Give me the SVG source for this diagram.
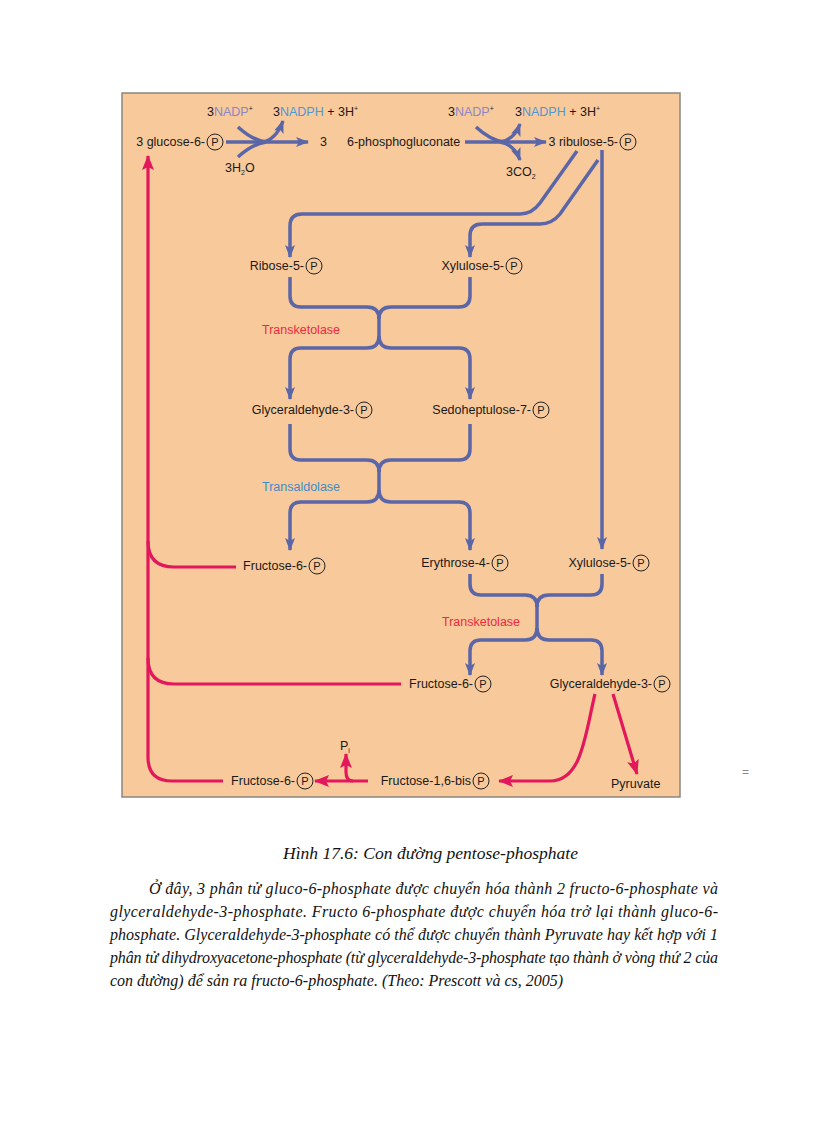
<svg xmlns="http://www.w3.org/2000/svg" width="816" height="1123" viewBox="0 0 816 1123">
<defs>
<style>
.t{font-family:"Liberation Sans",Arial,sans-serif;font-size:12.5px;fill:#1a1a1a}
.p{font-family:"Liberation Sans",Arial,sans-serif;font-size:11px;fill:#1a1a1a;text-anchor:middle}
.pc{fill:none;stroke:#222;stroke-width:1}
.b{fill:none;stroke:#5a66a8;stroke-width:3.5;stroke-linecap:butt;stroke-linejoin:round}
.r{fill:none;stroke:#e3175c;stroke-width:3.2;stroke-linejoin:round}
.cap{font-family:"Liberation Serif","Times New Roman",serif;font-style:italic;font-size:17px;fill:#111}
.para{font-family:"Liberation Serif","Times New Roman",serif;font-style:italic;font-size:16px;fill:#111}
.lav{fill:#8a86c8}
.sky{fill:#4f97d6}
</style>
<marker id="ab" markerUnits="userSpaceOnUse" markerWidth="13" markerHeight="10" refX="12" refY="5" orient="auto">
<path d="M0,0 L13,5 L0,10 L3,5 z" fill="#5a66a8"/>
</marker>
<marker id="ar" markerUnits="userSpaceOnUse" markerWidth="15" markerHeight="12" refX="14" refY="6" orient="auto">
<path d="M0,0 L15,6 L0,12 L3,6 z" fill="#e3175c"/>
</marker>
</defs>
<rect width="816" height="1123" fill="#ffffff"/>
<rect x="122" y="93" width="558" height="704" fill="#f8c99b" stroke="#8a8580" stroke-width="1.5"/>

<g id="connectors">
<path class="b" d="M226,142 H308" marker-end="url(#ab)"/>
<path class="b" d="M238,127 Q252,140 266,142"/>
<path class="b" d="M238,157 Q252,144 266,142"/>
<path class="b" d="M262,142 Q276,140 283,121" marker-end="url(#ab)"/>
<path class="b" d="M465,142 H546" marker-end="url(#ab)"/>
<path class="b" d="M476,127 Q490,140 504,142"/>
<path class="b" d="M500,142 Q514,140 520,124" marker-end="url(#ab)"/>
<path class="b" d="M500,142 Q514,144 520,160" marker-end="url(#ab)"/>
<path class="b" d="M577,151 L540,203 Q532,214 520,214 L302,214 Q290,214 290,226 L290,257" marker-end="url(#ab)"/>
<path class="b" d="M598,160 L560,214 Q552,224 540,224 L482,224 Q470,224 470,236 L470,257" marker-end="url(#ab)"/>
<path class="b" d="M602,150 L602,549" marker-end="url(#ab)"/>
<path class="b" d="M290,277 V296 Q290,307 301,307 H367 Q379,307 379,319"/>
<path class="b" d="M470,277 V296 Q470,307 459,307 H391 Q379,307 379,319"/>
<path class="b" d="M379,317 V338"/>
<path class="b" d="M379,336 Q379,348 367,348 H301 Q290,348 290,359 V399" marker-end="url(#ab)"/>
<path class="b" d="M379,336 Q379,348 391,348 H459 Q470,348 470,359 V399" marker-end="url(#ab)"/>
<path class="b" d="M290,424 V449 Q290,460 301,460 H367 Q379,460 379,472"/>
<path class="b" d="M470,424 V449 Q470,460 459,460 H391 Q379,460 379,472"/>
<path class="b" d="M379,470 V492"/>
<path class="b" d="M379,490 Q379,502 367,502 H301 Q290,502 290,513 V550" marker-end="url(#ab)"/>
<path class="b" d="M379,490 Q379,502 391,502 H459 Q470,502 470,513 V550" marker-end="url(#ab)"/>
<path class="b" d="M470,574 V584 Q470,595 481,595 H525 Q537,595 537,607"/>
<path class="b" d="M602,574 V584 Q602,595 591,595 H549 Q537,595 537,607"/>
<path class="b" d="M537,605 V630"/>
<path class="b" d="M537,628 Q537,640 525,640 H481 Q470,640 470,651 V675" marker-end="url(#ab)"/>
<path class="b" d="M537,628 Q537,640 549,640 H591 Q602,640 602,651 V675" marker-end="url(#ab)"/>
<path class="r" d="M223,781 H172 Q148,781 148,757 V156" marker-end="url(#ar)"/>
<path class="r" d="M236,567 H174 Q148,567 148,541"/>
<path class="r" d="M401,684 H174 Q148,684 148,658"/>
<path class="r" d="M595,694 C585,735 582,781 550,781 H499" marker-end="url(#ar)"/>
<path class="r" d="M613,694 L637,774" marker-end="url(#ar)"/>
<path class="r" d="M368,781 H315" marker-end="url(#ar)"/>
<path class="r" d="M353,781 Q346,781 346,772 V754" marker-end="url(#ar)"/>
</g>

<g id="cofactors">
<text class="t" x="207" y="116">3<tspan class="lav">NADP</tspan><tspan font-size="7" dy="-5">+</tspan></text>
<text class="t" x="273" y="116">3<tspan class="sky">NADPH</tspan> + 3H<tspan font-size="7" dy="-5">+</tspan></text>
<text class="t" x="225" y="172">3H<tspan font-size="7" dy="3">2</tspan><tspan dy="-3">O</tspan></text>
<text class="t" x="448" y="116">3<tspan class="lav">NADP</tspan><tspan font-size="7" dy="-5">+</tspan></text>
<text class="t" x="515" y="116">3<tspan class="sky">NADPH</tspan> + 3H<tspan font-size="7" dy="-5">+</tspan></text>
<text class="t" x="506" y="176">3CO<tspan font-size="7" dy="3">2</tspan></text>
</g>

<g id="glucose6p"><text class="t" x="205" y="146" text-anchor="end">3 glucose-6-</text><circle class="pc" cx="215" cy="142" r="8"/><text class="p" x="215" y="146">P</text></g>
<g id="phosphogluconate"><text class="t" x="320" y="146">3</text><text class="t" x="347" y="146">6-phosphogluconate</text></g>
<g id="ribulose5p"><text class="t" x="618" y="146" text-anchor="end">3 ribulose-5-</text><circle class="pc" cx="628" cy="142" r="8"/><text class="p" x="628" y="146">P</text></g>
<g id="ribose5p"><text class="t" x="304" y="270" text-anchor="end">Ribose-5-</text><circle class="pc" cx="314" cy="266" r="8"/><text class="p" x="314" y="270">P</text></g>
<g id="xylulose5p-a"><text class="t" x="504" y="270" text-anchor="end">Xylulose-5-</text><circle class="pc" cx="514" cy="266" r="8"/><text class="p" x="514" y="270">P</text></g>
<g id="label-transketolase-1"><text class="t" x="262" y="334" style="fill:#ee2a3c">Transketolase</text></g>
<g id="glyceraldehyde3p-a"><text class="t" x="354" y="414" text-anchor="end">Glyceraldehyde-3-</text><circle class="pc" cx="364" cy="410" r="8"/><text class="p" x="364" y="414">P</text></g>
<g id="sedoheptulose7p"><text class="t" x="531" y="414" text-anchor="end">Sedoheptulose-7-</text><circle class="pc" cx="541" cy="410" r="8"/><text class="p" x="541" y="414">P</text></g>
<g id="label-transaldolase"><text class="t" x="262" y="491" style="fill:#3d8ccc">Transaldolase</text></g>
<g id="fructose6p-a"><text class="t" x="307" y="570" text-anchor="end">Fructose-6-</text><circle class="pc" cx="317" cy="566" r="8"/><text class="p" x="317" y="570">P</text></g>
<g id="erythrose4p"><text class="t" x="490" y="567" text-anchor="end">Erythrose-4-</text><circle class="pc" cx="500" cy="563" r="8"/><text class="p" x="500" y="567">P</text></g>
<g id="xylulose5p-b"><text class="t" x="631" y="567" text-anchor="end">Xylulose-5-</text><circle class="pc" cx="641" cy="563" r="8"/><text class="p" x="641" y="567">P</text></g>
<g id="label-transketolase-2"><text class="t" x="442" y="626" style="fill:#ee2a3c">Transketolase</text></g>
<g id="fructose6p-b"><text class="t" x="473" y="688" text-anchor="end">Fructose-6-</text><circle class="pc" cx="483" cy="684" r="8"/><text class="p" x="483" y="688">P</text></g>
<g id="glyceraldehyde3p-b"><text class="t" x="652" y="688" text-anchor="end">Glyceraldehyde-3-</text><circle class="pc" cx="662" cy="684" r="8"/><text class="p" x="662" y="688">P</text></g>
<g id="fructose16bisp"><text class="t" x="471" y="785" text-anchor="end">Fructose-1,6-bis</text><circle class="pc" cx="481" cy="781" r="8"/><text class="p" x="481" y="785">P</text></g>
<g id="fructose6p-c"><text class="t" x="295" y="785" text-anchor="end">Fructose-6-</text><circle class="pc" cx="305" cy="781" r="8"/><text class="p" x="305" y="785">P</text></g>
<g id="pi"><text class="t" x="340" y="750">P<tspan font-size="7" dy="3">i</tspan></text></g>
<g id="pyruvate"><text class="t" x="611" y="788">Pyruvate</text></g>

<text x="742" y="776" font-family="Liberation Sans, sans-serif" font-size="12" fill="#888">=</text>

<text class="cap" x="283" y="859" textLength="295" lengthAdjust="spacingAndGlyphs">Hình 17.6: Con đường pentose-phosphate</text>
<text class="para" x="149" y="894" textLength="569" lengthAdjust="spacing">Ở đây, 3 phân tử gluco-6-phosphate được chuyển hóa thành 2 fructo-6-phosphate và</text>
<text class="para" x="110" y="917" textLength="608" lengthAdjust="spacing">glyceraldehyde-3-phosphate. Fructo 6-phosphate được chuyển hóa trở lại thành gluco-6-</text>
<text class="para" x="110" y="940" textLength="608" lengthAdjust="spacing">phosphate. Glyceraldehyde-3-phosphate có thể được chuyển thành Pyruvate hay kết hợp với 1</text>
<text class="para" x="110" y="963" textLength="608" lengthAdjust="spacing">phân tử dihydroxyacetone-phosphate (từ glyceraldehyde-3-phosphate tạo thành ở vòng thứ 2 của</text>
<text class="para" x="110" y="986">con đường) để sản ra fructo-6-phosphate. (Theo: Prescott và cs, 2005)</text>
</svg>
